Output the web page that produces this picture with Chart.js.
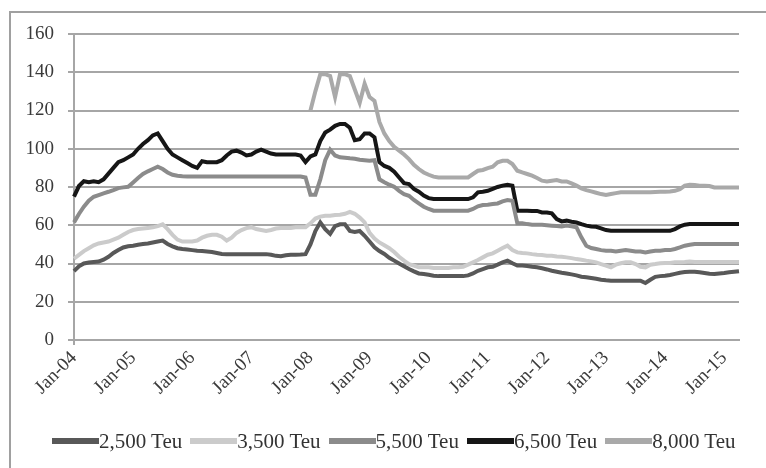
<!DOCTYPE html>
<html>
<head>
<meta charset="utf-8">
<script src="https://cdn.jsdelivr.net/npm/chart.js@4.4.0/dist/chart.umd.min.js"></script>
<style>
  body { margin: 0; background: #fff; }
  #frame { position: absolute; left: 9px; top: 11px; width: 800px; height: 500px;
    border-left: 2px solid #a0a0a0; border-top: 2px solid #a0a0a0; }
  #wrap { position: absolute; left: 0; top: 0; width: 766px; height: 468px; }
  #legend { position: absolute; left: 52px; top: 429px; display: flex;
    font-family: "Liberation Serif", "Times New Roman", serif; font-size: 21px; color: #333; }
  .item { display: flex; align-items: center; width: 138.3px; height: 24px; white-space: nowrap; }
  .swatch { display: inline-block; width: 47px; height: 6px; }
</style>
</head>
<body>
<div id="frame"></div>
<div id="wrap"><canvas id="teuChart" width="766" height="468"></canvas></div>
<div id="legend"></div>
<script>
// monthly categories Jan-04 .. Apr-15
const monthNames = ["Jan","Feb","Mar","Apr","May","Jun","Jul","Aug","Sep","Oct","Nov","Dec"];
const months = [];
for (let y = 2004; y <= 2015; y++) {
  for (let m = 0; m < 12; m++) {
    if (y === 2015 && m > 3) break;
    months.push(`${monthNames[m]}-${String(y).slice(2)}`);
  }
}

const seriesNames = ["2,500 Teu", "3,500 Teu", "5,500 Teu", "6,500 Teu", "8,000 Teu"];
const seriesColors = ["#585858", "#cbcbcb", "#8b8b8b", "#161616", "#a9a9a9"];

const teu2500 = [
  36, 38.5, 40, 40.5, 40.8, 41, 42, 43.5, 45.5, 47, 48.4, 49,
  49.3, 49.8, 50.2, 50.5, 51, 51.5, 52, 50.2, 49, 48, 47.6, 47.3,
  47, 46.7, 46.5, 46.3, 46, 45.5, 45, 44.9, 44.9, 44.9, 44.9, 44.9,
  44.9, 44.9, 44.9, 44.9, 44.6, 44, 43.8, 44.3, 44.6, 44.6, 44.7, 44.9,
  50, 57, 61.5, 58, 55.5, 59.5, 60.5, 60.5, 57, 56.5, 57, 54.5,
  51.5, 48.5, 46.5, 45, 43, 41.5, 40, 38.5, 37.1, 35.9, 34.8, 34.5,
  34.1, 33.6, 33.4, 33.4, 33.4, 33.4, 33.4, 33.4, 33.8, 34.8, 36.2, 37.1,
  38, 38.3, 39.4, 40.6, 41.5, 40.1, 38.9, 38.9, 38.7, 38.3, 38, 37.5,
  36.9, 36.2, 35.7, 35.2, 34.8, 34.3, 33.8, 33.1, 32.8, 32.4, 32, 31.5,
  31.2, 31, 31, 31, 31, 31, 31, 31, 29.8, 31.5, 33, 33.4,
  33.6, 34, 34.6, 35.2, 35.5, 35.7, 35.7, 35.4, 35, 34.6, 34.5, 34.8,
  35, 35.4, 35.7, 36
];

const teu3500 = [
  42.5, 44.5, 46.5, 48, 49.5, 50.5, 51, 51.5, 52.5, 53.5, 55, 56.5,
  57.5, 58, 58.3, 58.6, 58.9, 59.5, 60.5, 58, 55, 52.5, 51.5, 51.5,
  51.5, 52, 53.5, 54.5, 55, 55, 54, 52, 53.5, 56, 57.5, 58.5,
  59, 58, 57.5, 57, 57.5, 58.3, 58.6, 58.6, 58.6, 58.9, 58.9, 59,
  61, 63.5, 64.5, 65, 65, 65.4, 65.5, 66, 67, 66, 64, 61.5,
  56, 53, 51, 49.5, 48, 46, 43.5, 41.5, 39.7, 38.9, 38, 38,
  38, 37.6, 37.6, 37.6, 37.6, 38, 38, 38.3, 39.4, 40.6, 41.8, 43.2,
  44.6, 45.3, 46.7, 48.1, 49.3, 47, 45.8, 45.5, 45.3, 44.9, 44.6, 44.4,
  44.1, 44.1, 43.7, 43.5, 43.2, 42.8, 42.3, 42, 41.5, 41.1, 40.6, 39.7,
  38.9, 38, 39.4, 40.1, 40.6, 40.6, 39.7, 38.3, 38, 39.4, 39.7, 40.1,
  40.2, 40.3, 40.6, 40.7, 40.8, 41.1, 40.8, 40.8, 40.8, 40.8, 40.8, 40.8,
  40.8, 40.8, 40.8, 40.8
];

const teu5500 = [
  61.5, 65.9, 69.7, 72.8, 74.9, 75.8, 76.7, 77.5, 78.4, 79.4, 79.8, 80.1,
  82.4, 84.7, 86.8, 88.2, 89.4, 90.6, 89.4, 87.6, 86.4, 85.9, 85.6, 85.5,
  85.5, 85.5, 85.5, 85.5, 85.5, 85.5, 85.5, 85.5, 85.5, 85.5, 85.5, 85.5,
  85.5, 85.5, 85.5, 85.5, 85.5, 85.5, 85.5, 85.5, 85.5, 85.5, 85.5, 85,
  76, 76, 84, 94, 99.5, 96.5, 95.5, 95.3, 95, 94.8, 94.3, 94,
  93.7, 94, 84, 82.5, 81.2, 80.1, 78, 76.3, 75.4, 73.2, 71.4, 69.7,
  68.5, 67.6, 67.6, 67.6, 67.6, 67.6, 67.6, 67.6, 67.6, 68.5, 69.9, 70.6,
  70.7, 71.1, 71.4, 72.5, 73.2, 72.8, 61, 61, 60.6, 60.3, 60.3, 60.2,
  60, 59.8, 59.6, 59.4, 59.8, 59.4, 58.9, 53.7, 49.3, 48.1, 47.6, 47,
  46.7, 46.7, 46.3, 46.7, 47, 46.7, 46.3, 46.3, 45.8, 46.3, 46.7, 46.7,
  47, 47, 47.6, 48.4, 49.3, 49.8, 50.2, 50.2, 50.2, 50.2, 50.2, 50.2,
  50.2, 50.2, 50.2, 50.2
];

const teu6500 = [
  75, 80.5, 83, 82.5, 83, 82.5, 84, 87, 90, 93, 94, 95.5,
  97, 100, 102.5, 104.5, 107, 108, 104, 100, 97, 95.5, 94, 92.5,
  91, 90, 93.5, 93, 93, 93, 94, 96.5, 98.5, 99, 98, 96.5,
  97, 98.5, 99.5, 98.5, 97.5, 97, 97, 97, 97, 97, 96.5, 93,
  96, 97, 104, 108.5, 110, 112, 113, 113, 111, 104.5, 105, 108,
  108, 106, 93, 91, 90, 88, 85, 82, 81.5, 79, 77.5, 75.5,
  74.2, 73.7, 73.7, 73.7, 73.7, 73.7, 73.7, 73.7, 73.7, 74.6, 77.2, 77.5,
  78, 79, 80, 80.7, 81.2, 80.7, 67.6, 67.6, 67.6, 67.5, 67.5, 66.7,
  66.7, 66.2, 63.2, 62, 62.4, 61.8, 61.5, 60.6, 59.8, 59.4, 59.2, 58.4,
  57.5, 57.1, 57.1, 57.1, 57.1, 57.1, 57.1, 57.1, 57.1, 57.1, 57.1, 57.1,
  57.1, 57.1, 58, 59.4, 60.3, 60.6, 60.6, 60.6, 60.6, 60.6, 60.6, 60.6,
  60.6, 60.6, 60.6, 60.6
];

const teu8000 = [
  null, null, null, null, null, null, null, null, null, null, null, null,
  null, null, null, null, null, null, null, null, null, null, null, null,
  null, null, null, null, null, null, null, null, null, null, null, null,
  null, null, null, null, null, null, null, null, null, null, null, null,
  120, 130, 139, 139, 138, 127, 139, 139, 138, 131, 124, 134,
  127, 125, 114, 108, 104, 101, 99, 97, 94.6, 91.6, 89.4, 87.6,
  86.4, 85.4, 85, 85, 85, 85, 85, 85, 85, 86.8, 88.5, 88.9,
  89.9, 90.6, 92.9, 93.7, 93.7, 92, 88.5, 87.6, 86.8, 85.9, 84.7, 83.3,
  82.9, 83.3, 83.6, 82.9, 82.9, 81.9, 80.7, 79.3, 78.4, 77.7, 77, 76.3,
  75.8, 76.3, 76.8, 77.2, 77.2, 77.2, 77.2, 77.2, 77.2, 77.2, 77.4, 77.5,
  77.5, 77.6, 78, 78.9, 80.7, 81.2, 81, 80.7, 80.6, 80.5, 79.8, 79.8,
  79.8, 79.8, 79.8, 79.8
];

const seriesData = [teu2500, teu3500, teu5500, teu6500, teu8000];

const font = { family: "'Liberation Serif', 'Times New Roman', serif", size: 19 };
const axisGray = "#a6a6a6";

const teuChart = new Chart(document.getElementById("teuChart"), {
  type: "line",
  data: {
    labels: months,
    datasets: seriesNames.map((name, i) => ({
      label: name,
      data: seriesData[i],
      borderColor: seriesColors[i],
      borderWidth: 4,
      pointRadius: 0,
      tension: 0,
      spanGaps: false,
    })),
  },
  options: {
    responsive: false,
    animation: false,
    layout: { padding: { left: 0, right: 27, top: 34, bottom: 68 } },
    plugins: { legend: { display: false }, tooltip: { enabled: false } },
    scales: {
      x: {
        grid: {
          drawOnChartArea: false,
          tickLength: 5,
          tickColor: (ctx) => (ctx.index % 12 === 0 ? axisGray : "transparent"),
          lineWidth: 2,
        },
        border: { color: axisGray, width: 2 },
        ticks: {
          autoSkip: false,
          minRotation: 45,
          maxRotation: 45,
          padding: 2,
          color: "#3a3a3a",
          font: font,
          callback: function (value, index) {
            return index % 12 === 0 ? months[index] : null;
          },
        },
        afterFit: (scale) => { scale.height = 60; },
      },
      y: {
        min: 0,
        max: 160,
        grid: { color: axisGray, lineWidth: 2, tickLength: 6 },
        border: { color: axisGray, width: 2 },
        ticks: { stepSize: 20, padding: 14, color: "#3a3a3a", font: font },
        afterFit: (scale) => { scale.width = 74; },
      },
    },
  },
});

// legend
const legend = document.getElementById("legend");
seriesNames.forEach((name, i) => {
  const item = document.createElement("div");
  item.className = "item";
  const sw = document.createElement("span");
  sw.className = "swatch";
  sw.style.background = seriesColors[i];
  item.appendChild(sw);
  item.appendChild(document.createTextNode(name));
  legend.appendChild(item);
});
</script>
</body>
</html>
